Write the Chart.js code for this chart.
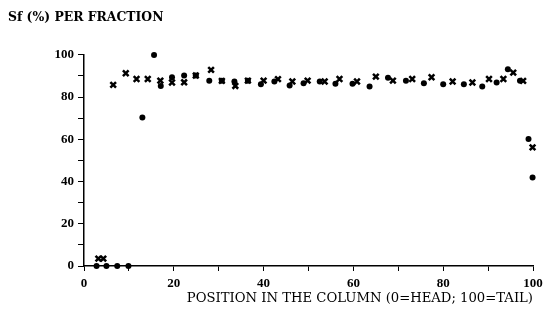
<!DOCTYPE html>
<html>
<head>
<meta charset="utf-8">
<script src="https://cdn.jsdelivr.net/npm/chart.js@4"></script>
<style>
html,body{margin:0;padding:0;background:#fff;}
#wrap{width:544px;height:324px;}
</style>
</head>
<body>
<div id="wrap"><canvas id="c" width="544" height="324"></canvas></div>
<script>
const crossX = [3.2, 4.3, 6.5, 9.3, 11.7, 14.2, 17.0, 19.6, 22.3, 24.9, 28.3, 30.7, 33.7, 36.5, 40.0, 43.2, 46.4, 49.8, 53.6, 56.9, 60.8, 65.0, 68.8, 73.1, 77.4, 82.1, 86.5, 90.2, 93.4, 95.6, 97.8, 99.9];
const crossY = [3.5, 3.5, 85.8, 91.3, 88.6, 88.6, 87.8, 86.9, 87.0, 90.2, 92.9, 87.7, 85.3, 87.8, 87.8, 88.5, 87.4, 87.8, 87.4, 88.6, 87.4, 89.7, 87.8, 88.6, 89.4, 87.4, 86.9, 88.6, 88.6, 91.6, 87.7, 56.2];
const dotX = [2.8, 5.0, 7.4, 9.9, 13.0, 15.6, 17.1, 19.6, 22.3, 24.9, 27.9, 30.7, 33.5, 36.5, 39.4, 42.4, 45.8, 48.9, 52.5, 56.0, 59.8, 63.6, 67.7, 71.7, 75.7, 80.0, 84.6, 88.7, 91.9, 94.4, 97.1, 99.0, 99.9];
const dotY = [0, 0, 0, 0, 70.3, 100, 85.3, 89.4, 90.2, 90.2, 87.7, 87.7, 87.4, 87.8, 86.1, 87.4, 85.5, 86.6, 87.4, 86.3, 86.3, 85.0, 89.2, 87.7, 86.6, 86.1, 86.1, 85.0, 86.9, 93.2, 87.8, 60.2, 41.9];
const xTickLabels = [0, 20, 40, 60, 80, 100];
const yTickLabels = [0, 20, 40, 60, 80, 100];
const titleText = 'Sf (%) PER FRACTION';
const xTitleText = 'POSITION IN THE COLUMN (0=HEAD; 100=TAIL)';

const pts = (xs, ys) => xs.map((x, i) => ({x: x, y: ys[i]}));
const serif = "'Liberation Serif', 'DejaVu Serif', serif";
const wide = "'DejaVu Serif', 'Liberation Serif', serif";

new Chart(document.getElementById('c'), {
  type: 'scatter',
  data: {
    datasets: [
      {
        label: 'cross',
        data: pts(crossX, crossY),
        pointStyle: 'crossRot',
        pointRadius: 4,
        borderColor: '#000',
        backgroundColor: '#000',
        pointBorderWidth: 2.5,
        clip: false
      },
      {
        label: 'dot',
        data: pts(dotX, dotY),
        pointStyle: 'circle',
        pointRadius: 3,
        borderColor: '#000',
        backgroundColor: '#000',
        pointBorderWidth: 0,
        clip: false
      }
    ]
  },
  options: {
    responsive: false,
    animation: false,
    devicePixelRatio: 1,
    layout: {padding: {left: 8, right: 11, top: 0, bottom: 0}},
    plugins: {
      legend: {display: false},
      tooltip: {enabled: false},
      title: {
        display: true,
        text: titleText,
        align: 'start',
        color: '#000',
        font: {family: wide, size: 12.4, weight: 'bold'},
        padding: {top: 10, bottom: 30}
      }
    },
    scales: {
      x: {
        type: 'linear',
        min: 0, max: 100,
        afterFit: s => { s.height = 58; s.paddingLeft = 0; s.paddingRight = 0; },
        afterBuildTicks: s => { s.ticks = []; for (let v = 0; v <= 100; v += 10) s.ticks.push({value: v}); },
        ticks: {
          color: '#000',
          font: {family: serif, size: 13, weight: 'bold'},
          padding: 5,
          maxRotation: 0,
          autoSkip: false,
          callback: v => xTickLabels.includes(v) ? String(v) : ''
        },
        grid: {display: true, drawOnChartArea: false, drawTicks: true, tickLength: 5, color: '#000', tickWidth: 1},
        border: {display: true, color: '#000', width: 1.5},
        title: {
          display: true,
          text: xTitleText,
          align: 'end',
          color: '#000',
          font: {family: wide, size: 13.2},
          padding: {top: 4, bottom: 18}
        }
      },
      y: {
        type: 'linear',
        min: 0, max: 100,
        afterFit: s => { s.width = 76; s.paddingTop = 0; s.paddingBottom = 0; },
        afterBuildTicks: s => { s.ticks = []; for (let v = 0; v <= 100; v += 10) s.ticks.push({value: v}); },
        ticks: {
          color: '#000',
          font: {family: serif, size: 13, weight: 'bold'},
          padding: 4,
          autoSkip: false,
          callback: v => yTickLabels.includes(v) ? String(v) : ''
        },
        grid: {display: true, drawOnChartArea: false, drawTicks: true, tickLength: 6, color: '#000', tickWidth: 1},
        border: {display: true, color: '#000', width: 1.5}
      }
    }
  }
});
</script>
</body>
</html>
